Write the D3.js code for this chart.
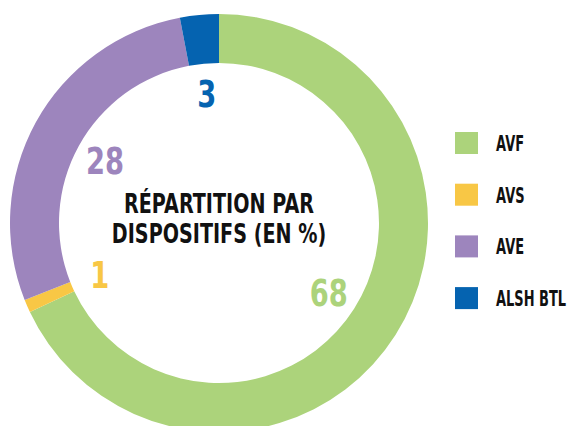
<!DOCTYPE html>
<html>
<head>
<meta charset="utf-8">
<script src="https://cdn.jsdelivr.net/npm/d3@7"></script>
<style>
  body { margin: 0; background: #fff; }
  text { font-family: "DejaVu Sans", sans-serif; font-weight: bold; }
</style>
</head>
<body>
<script>
// data
var categories = ["AVF", "AVS", "AVE", "ALSH BTL"];
var values = [68, 1, 28, 3];
var colors = ["#acd37b", "#f8c745", "#9d85bd", "#0563b0"];
var titleLines = ["RÉPARTITION PAR", "DISPOSITIFS (EN %)"];

var width = 576, height = 426;
var cx = 219, cy = 223,
    outerR = 209, innerR = 160, labelR = 130;

var svg = d3.select("body").append("svg")
    .attr("width", width)
    .attr("height", height);

// no condensed font installed -> squeeze horizontally with a scale
function squeeze(x, y, k) {
  return "translate(" + x + "," + y + ") scale(" + k + ",1)";
}

var g = svg.append("g").attr("transform", "translate(" + cx + "," + cy + ")");

var pie = d3.pie().sort(null).value(function (d) { return d; });
var arcs = pie(values);

var arc = d3.arc().innerRadius(innerR).outerRadius(outerR);
var labelArc = d3.arc().innerRadius(labelR).outerRadius(labelR);

g.selectAll("path.slice")
    .data(arcs)
    .enter().append("path")
    .attr("class", "slice")
    .attr("d", arc)
    .attr("fill", function (d, i) { return colors[i]; });

// value labels inside the ring
g.selectAll("text.val")
    .data(arcs)
    .enter().append("text")
    .attr("class", "val")
    .attr("transform", function (d) {
      var c = labelArc.centroid(d);
      return squeeze(c[0], c[1], 0.74);
    })
    .attr("text-anchor", "middle")
    .attr("dy", "0.36em")
    .style("font-size", "37px")
    .style("font-weight", "600")
    .attr("fill", function (d, i) { return colors[i]; })
    .text(function (d) { return d.data; });

// title in the middle
g.selectAll("text.title")
    .data(titleLines)
    .enter().append("text")
    .attr("class", "title")
    .attr("transform", function (d, i) { return squeeze(0, -10 + i * 30, 0.71); })
    .attr("text-anchor", "middle")
    .style("font-size", "27px")
    .attr("fill", "#111")
    .text(function (d) { return d; });

// legend
var legend = svg.selectAll("g.legend")
    .data(categories)
    .enter().append("g")
    .attr("class", "legend")
    .attr("transform", function (d, i) { return "translate(455," + (132 + i * 51.7) + ")"; });

legend.append("rect")
    .attr("width", 23)
    .attr("height", 22)
    .attr("fill", function (d, i) { return colors[i]; });

legend.append("text")
    .attr("transform", squeeze(41, 19, 0.59))
    .style("font-size", "22px")
    .attr("fill", "#111")
    .text(function (d) { return d; });
</script>
</body>
</html>
